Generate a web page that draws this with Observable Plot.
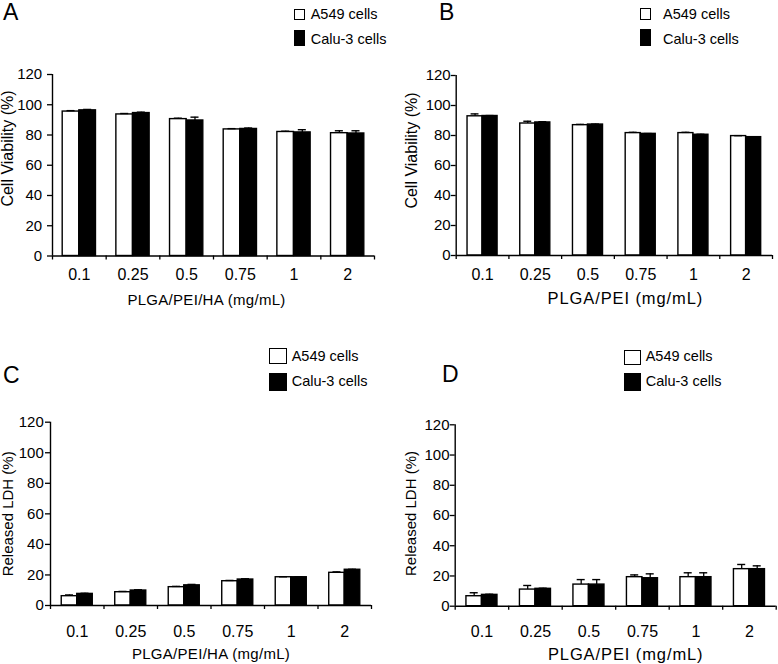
<!DOCTYPE html>
<html><head><meta charset="utf-8">
<script src="https://cdn.jsdelivr.net/npm/d3@7"></script>
<script src="https://cdn.jsdelivr.net/npm/@observablehq/plot@0.6"></script>
<style>
body{margin:0;background:#fff;font-family:"Liberation Sans",Arial,sans-serif;color:#000;}
#root{position:relative;width:778px;height:664px;overflow:hidden;background:#fff;}
.panel{position:absolute;}
.panel svg{position:absolute;left:0;top:0;}
.letter{position:absolute;font-size:23px;line-height:1;}
.lg-box{position:absolute;box-sizing:border-box;border:1.3px solid #000;}
.lg-text{position:absolute;font-size:14.5px;line-height:1;white-space:nowrap;}
</style></head><body><div id="root"></div><script>
// ---------- data ----------
const categories = ["0.1", "0.25", "0.5", "0.75", "1", "2"];
const seriesNames = ["A549 cells", "Calu-3 cells"];
const yTicks = [0, 20, 40, 60, 80, 100, 120];

// Panel A: Cell viability, PLGA/PEI/HA
const viabHA_A549 = [95.5, 93.6, 90.5, 83.7, 82.0, 81.2];
const viabHA_A549_err = [0.6, 0.6, 0.6, 0.5, 0.5, 1.6];
const viabHA_Calu3 = [96.3, 94.5, 89.6, 84.0, 81.7, 81.0];
const viabHA_Calu3_err = [0.6, 0.6, 2.2, 0.6, 1.8, 1.8];

// Panel B: Cell viability, PLGA/PEI
const viabPEI_A549 = [92.8, 88.0, 86.9, 81.6, 81.6, 79.6];
const viabPEI_A549_err = [1.6, 1.5, 0.5, 0.5, 0.5, 0.3];
const viabPEI_Calu3 = [93.0, 88.7, 87.3, 81.1, 80.5, 78.9];
const viabPEI_Calu3_err = [0.3, 0.5, 0.3, 0.2, 0.3, 0.2];

// Panel C: Released LDH, PLGA/PEI/HA
const ldhHA_A549 = [6.1, 8.7, 12.0, 15.9, 18.5, 21.4];
const ldhHA_A549_err = [0.8, 0.5, 0.5, 0.5, 0.3, 0.6];
const ldhHA_Calu3 = [7.6, 9.8, 13.2, 17.0, 18.5, 23.4];
const ldhHA_Calu3_err = [0.4, 0.5, 0.6, 0.5, 0.3, 0.3];

// Panel D: Released LDH, PLGA/PEI
const ldhPEI_A549 = [6.6, 11.0, 14.3, 19.2, 19.2, 24.5];
const ldhPEI_A549_err = [2.3, 2.7, 3.3, 1.5, 2.9, 3.1];
const ldhPEI_Calu3 = [7.5, 11.5, 14.3, 18.5, 19.2, 24.5];
const ldhPEI_Calu3_err = [0.4, 0.4, 3.3, 2.9, 2.9, 2.2];

// ---------- layout (styles / positions, not data) ----------
const panels = [
  {letter:"A", left:0, top:0, w:389, h:310, mL:52, mR:15, mT:74, mB:54.5, bw:0.31,
   yPad:5.3, xPad:13, ylab:"Cell Viability (%)", ylabFs:16, ylabDx:-44.5, ylabDy:-16.75,
   xlab:"PLGA/PEI/HA (mg/mL)", xlabFs:15, xlabLs:0.3, xlabDx:-7, xlabDy:44.5,
   letterX:3, letterBase:20,
   lg:{x:293.5, w:11.5, b1:[8.5,11.5], b2:[30,15.7], tx:310.7, base:[19,44]},
   data:[viabHA_A549, viabHA_A549_err, viabHA_Calu3, viabHA_Calu3_err]},
  {letter:"B", left:389, top:0, w:389, h:310, mL:66.7, mR:6, mT:75, mB:55, bw:0.285,
   yPad:0.5, xPad:13.6, ylab:"Cell Viability (%)", ylabFs:16, ylabDx:-44.7, ylabDy:-15,
   xlab:"PLGA/PEI (mg/mL)", xlabFs:16.5, xlabLs:0.9, xlabDx:11, xlabDy:43.5,
   letterX:50, letterBase:20,
   lg:{x:250.7, w:11, b1:[8,12], b2:[29,17], tx:274, base:[19,44]},
   data:[viabPEI_A549, viabPEI_A549_err, viabPEI_Calu3, viabPEI_Calu3_err]},
  {letter:"C", left:0, top:330, w:389, h:334, mL:50, mR:18, mT:91.7, mB:59, bw:0.29,
   yPad:1.7, xPad:20, ylab:"Released LDH (%)", ylabFs:15, ylabDx:-42.5, ylabDy:0,
   xlab:"PLGA/PEI/HA (mg/mL)", xlabFs:15, xlabLs:0.3, xlabDx:0, xlabDy:49,
   letterX:3, letterBase:53,
   lg:{x:269.3, w:17.4, b1:[18.3,15.7], b2:[43.3,17.4], tx:291.7, base:[31.7,56.7]},
   data:[ldhHA_A549, ldhHA_A549_err, ldhHA_Calu3, ldhHA_Calu3_err]},
  {letter:"D", left:389, top:330, w:389, h:334, mL:65.7, mR:2.3, mT:94.3, mB:58.3, bw:0.29,
   yPad:0.7, xPad:19, ylab:"Released LDH (%)", ylabFs:15, ylabDx:-44.2, ylabDy:-2,
   xlab:"PLGA/PEI (mg/mL)", xlabFs:16.5, xlabLs:0.9, xlabDx:10, xlabDy:48.3,
   letterX:53, letterBase:52,
   lg:{x:235, w:16.7, b1:[20,15], b2:[43.3,17.7], tx:256.7, base:[31.7,56.7]},
   data:[ldhPEI_A549, ldhPEI_A549_err, ldhPEI_Calu3, ldhPEI_Calu3_err]}
];

const FONT = "'Liberation Sans', Arial, sans-serif";
const root = document.getElementById("root");
const ASC = 0.8465; // baseline offset for line-height:1

function makePanel(cfg) {
  const [a, aErr, c, cErr] = cfg.data;
  const rows = [];
  categories.forEach((cat, i) => {
    rows.push({cat, i, s:0, series:seriesNames[0], value:a[i], err:aErr[i]});
    rows.push({cat, i, s:1, series:seriesNames[1], value:c[i], err:cErr[i]});
  });
  const bw = cfg.bw;
  const cap = 0.075;
  const x1 = d => d.i + 0.5 - bw + d.s * bw;
  const x2 = d => x1(d) + bw;
  const xc = d => x1(d) + bw / 2;
  const top = d => d.value + d.err;

  const svg = Plot.plot({
    width: cfg.w, height: cfg.h,
    marginLeft: cfg.mL, marginRight: cfg.mR, marginTop: cfg.mT, marginBottom: cfg.mB,
    style: {fontFamily: FONT, fontSize: "15px", color: "#000", background: "transparent", overflow: "visible"},
    x: {domain: [0, categories.length], axis: null},
    y: {domain: [0, 120], axis: null},
    marks: [
      Plot.rectY(rows.filter(d => d.s === 0), {x1, x2, y1: 0, y2: "value", fill: "white", stroke: "black", strokeWidth: 1.4}),
      Plot.rectY(rows.filter(d => d.s === 1), {x1, x2, y1: 0, y2: "value", fill: "black", stroke: "black", strokeWidth: 1.4}),
      Plot.ruleX(rows, {x: xc, y1: "value", y2: top, stroke: "black", strokeWidth: 1.3}),
      Plot.ruleY(rows, {y: top, x1: d => xc(d) - cap, x2: d => xc(d) + cap, stroke: "black", strokeWidth: 1.4}),
      Plot.ruleY([0], {stroke: "black", strokeWidth: 1.4}),
      Plot.ruleX([0], {stroke: "black", strokeWidth: 1.4}),
      Plot.axisY({ticks: yTicks, tickSize: 5, tickPadding: cfg.yPad, label: null, fontSize: 15, strokeWidth: 1.3}),
      Plot.axisX({ticks: d3.range(categories.length + 1), tickSize: 4, tickFormat: () => "", label: null, strokeWidth: 1.3}),
      Plot.axisX({ticks: categories.map((_, i) => i + 0.5), tickSize: 0, tickPadding: cfg.xPad,
        tickFormat: v => categories[Math.floor(v)], label: null, fontSize: 16}),
      Plot.text([cfg.ylab], {text: d => d, frameAnchor: "left", rotate: -90, textAnchor: "middle", lineAnchor: "middle",
        dx: cfg.ylabDx, dy: cfg.ylabDy, fontSize: cfg.ylabFs, fill: "black"}),
      Plot.text([cfg.xlab], {text: d => d, frameAnchor: "bottom", textAnchor: "middle", lineAnchor: "middle",
        dx: cfg.xlabDx, dy: cfg.xlabDy, fontSize: cfg.xlabFs, fill: "black"})
    ]
  });

  // letter-spacing for the x-axis title (style only)
  const texts = svg.querySelectorAll("text");
  texts.forEach(t => { if (t.textContent === cfg.xlab) t.style.letterSpacing = cfg.xlabLs + "px"; });

  const div = document.createElement("div");
  div.className = "panel";
  Object.assign(div.style, {left: cfg.left + "px", top: cfg.top + "px", width: cfg.w + "px", height: cfg.h + "px"});
  div.appendChild(svg);

  const L = document.createElement("div");
  L.className = "letter";
  L.textContent = cfg.letter;
  L.style.left = cfg.letterX + "px";
  L.style.top = (cfg.letterBase - ASC * 23) + "px";
  div.appendChild(L);

  const lg = cfg.lg;
  [[lg.b1, "#fff"], [lg.b2, "#000"]].forEach(([b, fill], k) => {
    const box = document.createElement("div");
    box.className = "lg-box";
    Object.assign(box.style, {left: lg.x + "px", top: b[0] + "px", width: lg.w + "px", height: b[1] + "px", background: fill});
    div.appendChild(box);
    const t = document.createElement("div");
    t.className = "lg-text";
    t.textContent = seriesNames[k];
    t.style.left = lg.tx + "px";
    t.style.top = (lg.base[k] - ASC * 14.5) + "px";
    div.appendChild(t);
  });
  root.appendChild(div);
}
panels.forEach(makePanel);
</script></body></html>
